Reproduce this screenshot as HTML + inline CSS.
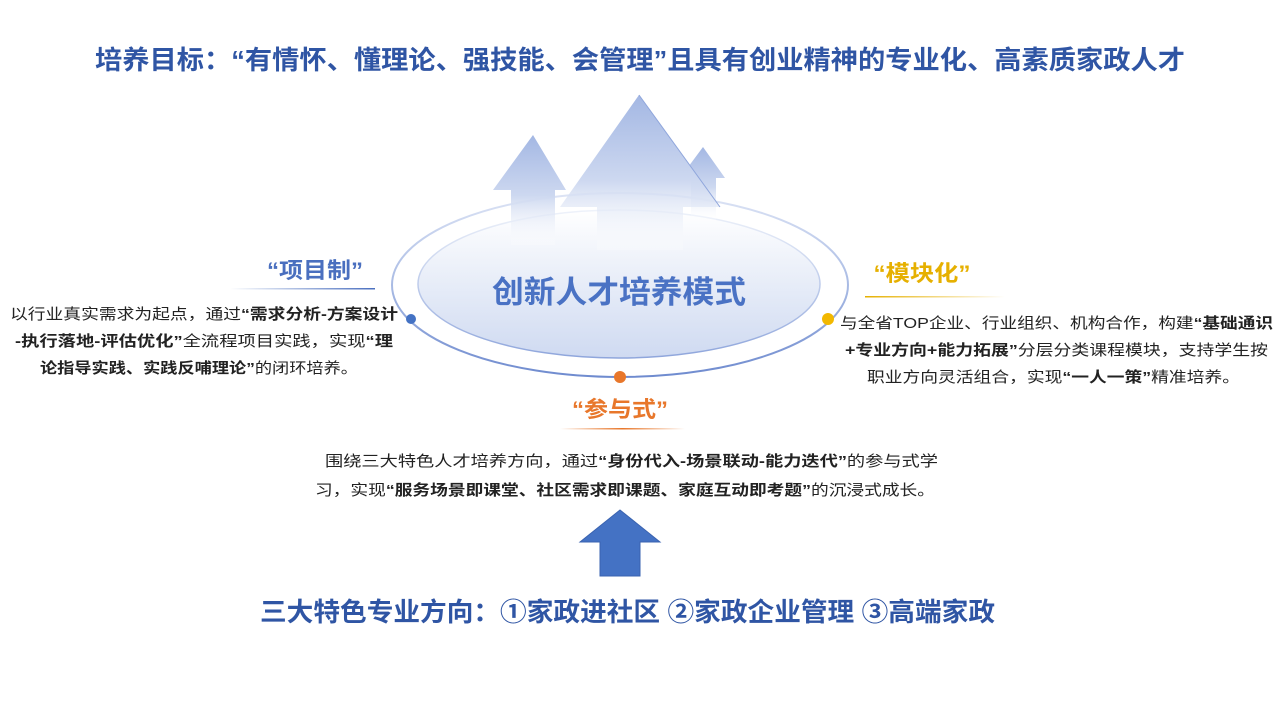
<!DOCTYPE html>
<html><head><meta charset="utf-8"><style>
html,body{margin:0;padding:0;background:#fff}
svg{display:block}
text{font-family:"Liberation Sans","Noto Sans CJK SC",sans-serif}
</style></head><body>
<svg width="1280" height="720" viewBox="0 0 1280 720" xmlns="http://www.w3.org/2000/svg">
<defs>
<linearGradient id="ag" x1="0" y1="0" x2="0" y2="1">
<stop offset="0" stop-color="#a3b7e3"/><stop offset="0.55" stop-color="#cdd8f0"/><stop offset="1" stop-color="#ffffff" stop-opacity="0.2"/>
</linearGradient>
<linearGradient id="eg" x1="0" y1="0" x2="0" y2="1">
<stop offset="0" stop-color="#ffffff"/><stop offset="1" stop-color="#cfdaf1"/>
</linearGradient>
<linearGradient id="os" x1="0" y1="0" x2="0" y2="1">
<stop offset="0" stop-color="#dde4f5"/><stop offset="0.5" stop-color="#a9bbe4"/><stop offset="1" stop-color="#6f8bcf"/>
</linearGradient>
<linearGradient id="is" x1="0" y1="0" x2="0" y2="1">
<stop offset="0" stop-color="#eef2fa"/><stop offset="1" stop-color="#8fa6dc"/>
</linearGradient>
<linearGradient id="lb" x1="0" y1="0" x2="1" y2="0">
<stop offset="0" stop-color="#4a6fbf" stop-opacity="0"/><stop offset="1" stop-color="#4a6fbf"/>
</linearGradient>
<linearGradient id="ly" x1="0" y1="0" x2="1" y2="0">
<stop offset="0" stop-color="#e6b000"/><stop offset="1" stop-color="#e6b000" stop-opacity="0"/>
</linearGradient>
<linearGradient id="lo" x1="0" y1="0" x2="1" y2="0">
<stop offset="0" stop-color="#e8772b" stop-opacity="0"/><stop offset="0.5" stop-color="#e8772b"/><stop offset="1" stop-color="#e8772b" stop-opacity="0"/>
</linearGradient>
</defs>

<text x="640" y="69" text-anchor="middle" font-size="26" font-weight="bold" fill="#2f55a4" textLength="1090" lengthAdjust="spacingAndGlyphs">培养目标：“有情怀、懂理论、强技能、会管理”且具有创业精神的专业化、高素质家政人才</text>

<ellipse cx="620" cy="285" rx="228" ry="92" fill="none" stroke="url(#os)" stroke-width="2"/>
<ellipse cx="619" cy="284" rx="201" ry="74" fill="url(#eg)" stroke="url(#is)" stroke-width="1.5"/>

<polygon points="533,135 566,190 555,190 555,245 511,245 511,190 493,190" fill="url(#ag)"/>
<polygon points="703,147 725,178 716,178 716,220 691,220 691,178 680,178" fill="url(#ag)"/>
<polygon points="639,95 720,207 683,207 683,250 597,250 597,207 560,207" fill="url(#ag)"/>
<polyline points="639,95 720,207" fill="none" stroke="#8fa6dc" stroke-width="1"/>

<text x="619" y="303" text-anchor="middle" font-size="31" font-weight="bold" fill="#4a72c4" textLength="254" lengthAdjust="spacingAndGlyphs">创新人才培养模式</text>

<circle cx="411" cy="319" r="5" fill="#4472c4"/>
<circle cx="828" cy="319" r="6" fill="#f2b800"/>
<circle cx="620" cy="377" r="6" fill="#e8772b"/>

<text x="315" y="278" text-anchor="middle" font-size="22" font-weight="bold" fill="#4a6fbf" textLength="96" lengthAdjust="spacingAndGlyphs">“项目制”</text>
<rect x="230" y="288" width="145" height="1.5" fill="url(#lb)"/>
<g font-size="15" fill="#222">
<text x="10" y="319" textLength="388" lengthAdjust="spacingAndGlyphs">以行业真实需求为起点，通过<tspan font-weight="bold">“需求分析-方案设计</tspan></text>
<text x="15" y="346" textLength="378" lengthAdjust="spacingAndGlyphs"><tspan font-weight="bold">-执行落地-评估优化”</tspan>全流程项目实践，实现<tspan font-weight="bold">“理</tspan></text>
<text x="40" y="373" textLength="318" lengthAdjust="spacingAndGlyphs"><tspan font-weight="bold">论指导实践、实践反哺理论”</tspan>的闭环培养。</text>
</g>

<text x="922" y="281" text-anchor="middle" font-size="22" font-weight="bold" fill="#e6b000" textLength="97" lengthAdjust="spacingAndGlyphs">“模块化”</text>
<rect x="865" y="296" width="140" height="1.5" fill="url(#ly)"/>
<g font-size="15" fill="#222">
<text x="840" y="328" textLength="433" lengthAdjust="spacingAndGlyphs">与全省TOP企业、行业组织、机构合作，构建<tspan font-weight="bold">“基础通识</tspan></text>
<text x="845" y="355" textLength="423" lengthAdjust="spacingAndGlyphs"><tspan font-weight="bold">+专业方向+能力拓展”</tspan>分层分类课程模块，支持学生按</text>
<text x="867" y="382" textLength="373" lengthAdjust="spacingAndGlyphs">职业方向灵活组合，实现<tspan font-weight="bold">“一人一策”</tspan>精准培养。</text>
</g>

<text x="620" y="417" text-anchor="middle" font-size="22" font-weight="bold" fill="#e8772b" textLength="96" lengthAdjust="spacingAndGlyphs">“参与式”</text>
<rect x="560" y="428" width="125" height="1.5" fill="url(#lo)"/>
<g font-size="15" fill="#222">
<text x="325" y="466" textLength="613" lengthAdjust="spacingAndGlyphs">围绕三大特色人才培养方向，通过<tspan font-weight="bold">“身份代入-场景联动-能力迭代”</tspan>的参与式学</text>
<text x="315" y="495" textLength="620" lengthAdjust="spacingAndGlyphs">习，实现<tspan font-weight="bold">“服务场景即课堂、社区需求即课题、家庭互动即考题”</tspan>的沉浸式成长。</text>
</g>

<polygon points="620,510 660,542 640,542 640,576 600,576 600,542 580,542" fill="#4472c4" stroke="#3a63b0" stroke-width="1"/>

<text x="260" y="621" font-size="26" font-weight="bold" fill="#2f55a4" textLength="735" lengthAdjust="spacingAndGlyphs">三大特色专业方向：①家政进社区 ②家政企业管理 ③高端家政</text>
</svg>
</body></html>
